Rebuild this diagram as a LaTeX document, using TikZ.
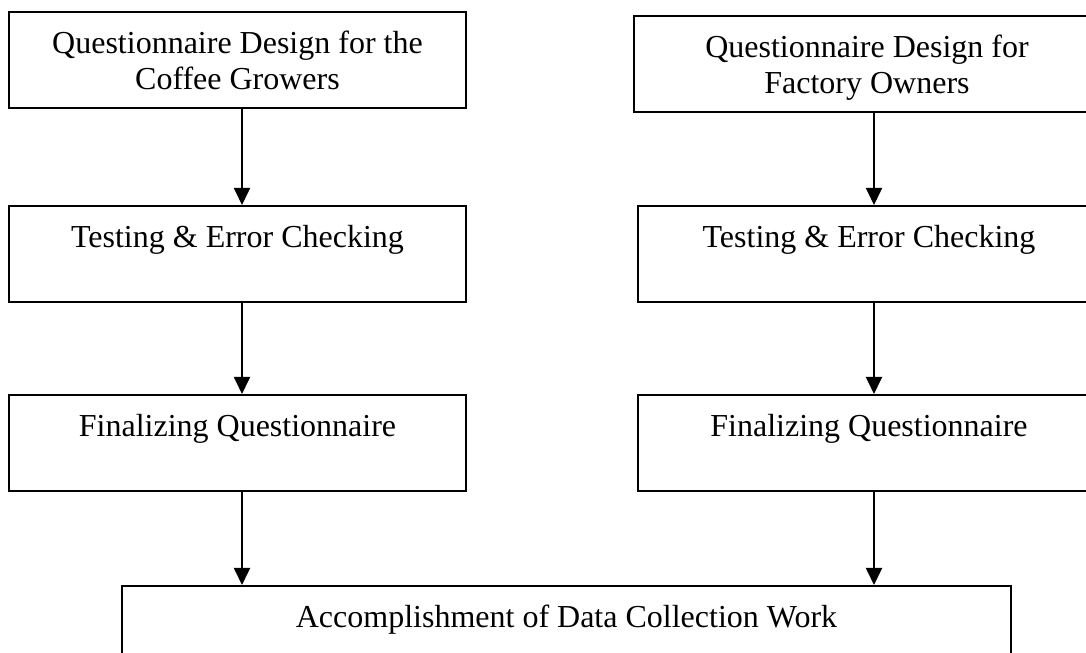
\documentclass[tikz,border=0pt]{standalone}
\usepackage{fontspec}
\setmainfont{Liberation Serif}
\usetikzlibrary{arrows.meta,positioning}

\begin{document}
\begin{tikzpicture}[x=0.375pt, y=-0.375pt,
    box/.style={rectangle, draw=black, line width=0.8pt, inner sep=0pt, anchor=north, minimum height=36pt, text height=15.4pt, text depth=20.6pt, align=center, font=\fontsize{12pt}{13.5pt}\selectfont},
    twoline/.style={text height=28.9pt, text depth=7.1pt},
    arrow/.style={-{Triangle[length=6.4pt,width=6pt]}, line width=0.75pt}
]
\useasboundingbox (0,0) rectangle (1086,653);
\clip (0,0) rectangle (1086,653);

% Left column: coffee growers
\node[box, minimum width=171.4pt, twoline] (grow1) at (237.5,11) {Questionnaire Design for the\\Coffee Growers};
\node[box, minimum width=171.4pt] (grow2) at (237.5,205) {Testing \& Error Checking};
\node[box, minimum width=171.4pt] (grow3) at (237.5,394) {Finalizing Questionnaire};

% Right column: factory owners (runs off the page edge)
\node[box, minimum width=174.75pt, twoline] (fact1) at (867,15) {Questionnaire Design for\\Factory Owners};
\node[box, minimum width=173.25pt] (fact2) at (869,205) {Testing \& Error Checking};
\node[box, minimum width=173.25pt] (fact3) at (869,394) {Finalizing Questionnaire};

% Bottom: data collection
\node[box, minimum width=333.4pt] (collect) at (566.5,585) {Accomplishment of Data Collection Work};

\coordinate (lx) at (242,0);
\coordinate (rx) at (874,0);

\draw[arrow] (grow1.south -| lx) -- (grow2.north -| lx);
\draw[arrow] (grow2.south -| lx) -- (grow3.north -| lx);
\draw[arrow] (grow3.south -| lx) -- (collect.north -| lx);

\draw[arrow] (fact1.south -| rx) -- (fact2.north -| rx);
\draw[arrow] (fact2.south -| rx) -- (fact3.north -| rx);
\draw[arrow] (fact3.south -| rx) -- (collect.north -| rx);
\end{tikzpicture}
\end{document}
